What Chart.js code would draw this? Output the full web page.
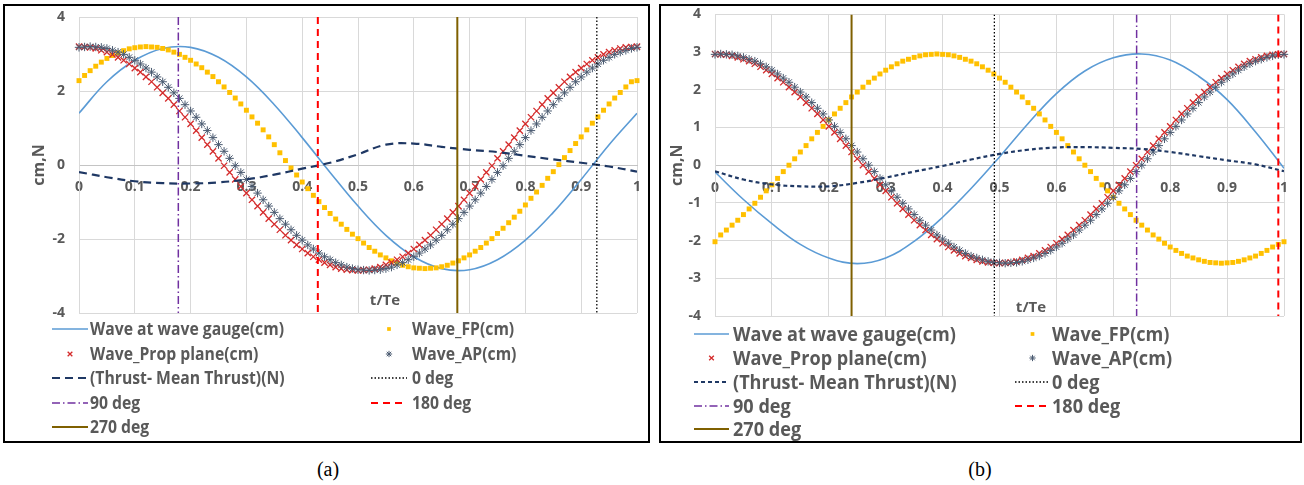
<!DOCTYPE html>
<html>
<head>
<meta charset="UTF-8">
<title>Wave / thrust phase (a) (b)</title>
<script src="https://cdn.jsdelivr.net/npm/chart.js@4.4.1/dist/chart.umd.min.js"></script>
<style>
  body { margin: 0; background: #fff; width: 1304px; height: 485px; position: relative; overflow: hidden; }
  .panel { position: absolute; top: 4px; height: 439px; border: 2px solid #000; box-sizing: border-box; }
  #boxA { left: 3px; width: 647px; }
  #boxB { left: 659px; width: 643px; }
  .inner { position: relative; width: 100%; height: 100%; }
  .cap { position: absolute; top: 456px; width: 60px; margin-left: -30px; text-align: center;
         font: 20px "Liberation Serif", "Times New Roman", serif; color: #000; line-height: 26px; }
</style>
</head>
<body>
<div class="panel" id="boxA"><div class="inner"><canvas id="chartA"></canvas></div></div>
<div class="panel" id="boxB"><div class="inner"><canvas id="chartB"></canvas></div></div>
<div class="cap" style="left:328px">(a)</div>
<div class="cap" style="left:980px">(b)</div>
<script>
// ---- data ----
// time samples t/Te
const tFine = [0,0.01,0.02,0.03,0.04,0.05,0.06,0.07,0.08,0.09,
  0.1,0.11,0.12,0.13,0.14,0.15,0.16,0.17,0.18,0.19,
  0.2,0.21,0.22,0.23,0.24,0.25,0.26,0.27,0.28,0.29,
  0.3,0.31,0.32,0.33,0.34,0.35,0.36,0.37,0.38,0.39,
  0.4,0.41,0.42,0.43,0.44,0.45,0.46,0.47,0.48,0.49,
  0.5,0.51,0.52,0.53,0.54,0.55,0.56,0.57,0.58,0.59,
  0.6,0.61,0.62,0.63,0.64,0.65,0.66,0.67,0.68,0.69,
  0.7,0.71,0.72,0.73,0.74,0.75,0.76,0.77,0.78,0.79,
  0.8,0.81,0.82,0.83,0.84,0.85,0.86,0.87,0.88,0.89,
  0.9,0.91,0.92,0.93,0.94,0.95,0.96,0.97,0.98,0.99,1];
const tCoarse = [0,0.05,0.1,0.15,0.2,0.25,0.3,0.35,0.4,0.45,0.5,0.55,0.6,0.65,0.7,0.75,0.8,0.85,0.9,0.95,1];

const seriesNames = ['Wave at wave gauge(cm)', 'Wave_FP(cm)', 'Wave_Prop plane(cm)', 'Wave_AP(cm)', '(Thrust- Mean Thrust)(N)'];
const phaseNames = ['0 deg', '90 deg', '180 deg', '270 deg'];
const xTicks = [0,0.1,0.2,0.3,0.4,0.5,0.6,0.7,0.8,0.9,1];
const yTicksA = [-4,-2,0,2,4];
const yTicksB = [-4,-3,-2,-1,0,1,2,3,4];

// panel (a)
const aGauge = [1.40,2.25,2.83,3.15,3.18,2.91,2.38,1.63,0.74,-0.20,-1.11,-1.90,-2.48,-2.80,-2.83,-2.56,-2.03,-1.28,-0.39,0.55,1.40];
const aFP = [2.28,2.42,2.55,2.67,2.78,2.88,2.96,3.03,3.09,3.14,
  3.17,3.19,3.20,3.19,3.18,3.15,3.11,3.05,2.99,2.91,
  2.83,2.73,2.63,2.51,2.39,2.25,2.11,1.96,1.81,1.65,
  1.48,1.30,1.13,0.95,0.76,0.55,0.33,0.12,-0.08,-0.27,
  -0.46,-0.64,-0.82,-0.99,-1.15,-1.31,-1.46,-1.60,-1.74,-1.87,
  -1.99,-2.11,-2.23,-2.33,-2.43,-2.51,-2.59,-2.65,-2.71,-2.75,
  -2.78,-2.79,-2.80,-2.79,-2.78,-2.75,-2.71,-2.65,-2.59,-2.51,
  -2.43,-2.33,-2.23,-2.11,-1.99,-1.85,-1.71,-1.56,-1.41,-1.25,
  -1.08,-0.90,-0.73,-0.55,-0.36,-0.18,0.01,0.20,0.39,0.58,
  0.76,0.95,1.13,1.30,1.48,1.65,1.81,1.96,2.11,2.25,
  2.28];
const aProp = [3.20,3.19,3.18,3.15,3.10,3.05,2.99,2.91,2.83,2.73,
  2.62,2.51,2.38,2.25,2.10,1.95,1.80,1.63,1.46,1.29,
  1.11,0.93,0.74,0.55,0.37,0.18,-0.02,-0.20,-0.39,-0.58,
  -0.76,-0.94,-1.11,-1.28,-1.45,-1.60,-1.75,-1.90,-2.03,-2.16,
  -2.27,-2.38,-2.48,-2.56,-2.64,-2.70,-2.76,-2.80,-2.83,-2.84,
  -2.85,-2.84,-2.83,-2.80,-2.76,-2.70,-2.64,-2.56,-2.48,-2.38,
  -2.27,-2.16,-2.03,-1.90,-1.75,-1.60,-1.45,-1.28,-1.11,-0.94,
  -0.76,-0.58,-0.39,-0.20,-0.02,0.18,0.37,0.55,0.74,0.93,
  1.11,1.29,1.46,1.63,1.80,1.95,2.10,2.25,2.38,2.51,
  2.62,2.73,2.83,2.91,2.99,3.05,3.10,3.15,3.18,3.19,
  3.20];
const aAP = [3.18,3.19,3.20,3.19,3.18,3.15,3.10,3.05,2.99,2.91,
  2.83,2.73,2.62,2.51,2.38,2.25,2.10,1.95,1.80,1.63,
  1.46,1.29,1.11,0.93,0.74,0.55,0.37,0.18,-0.02,-0.20,
  -0.39,-0.58,-0.76,-0.94,-1.11,-1.28,-1.45,-1.60,-1.75,-1.90,
  -2.03,-2.16,-2.27,-2.38,-2.48,-2.56,-2.64,-2.70,-2.76,-2.80,
  -2.83,-2.84,-2.85,-2.84,-2.83,-2.80,-2.76,-2.70,-2.64,-2.56,
  -2.48,-2.38,-2.27,-2.16,-2.03,-1.90,-1.75,-1.60,-1.45,-1.28,
  -1.11,-0.94,-0.76,-0.58,-0.39,-0.20,-0.02,0.18,0.37,0.55,
  0.74,0.93,1.11,1.29,1.46,1.63,1.80,1.95,2.10,2.25,
  2.38,2.51,2.62,2.73,2.83,2.91,2.99,3.05,3.10,3.15,
  3.18];
const aThrust = [-0.19,-0.33,-0.44,-0.49,-0.50,-0.47,-0.39,-0.26,-0.10,0.06,0.29,0.55,0.58,0.49,0.41,0.35,0.25,0.15,0.06,-0.04,-0.18];
const aPhase = [0.928, 0.178, 0.428, 0.678];   // 0, 90, 180, 270 deg

// panel (b)
const bGauge = [-0.18,-0.91,-1.55,-2.10,-2.46,-2.61,-2.46,-2.02,-1.38,-0.62,0.22,1.10,1.90,2.50,2.85,2.95,2.79,2.36,1.74,0.88,-0.08];
const bFP = [-2.03,-1.85,-1.72,-1.59,-1.46,-1.31,-1.16,-1.01,-0.85,-0.68,
  -0.52,-0.35,-0.17,0.00,0.17,0.35,0.52,0.70,0.87,1.03,
  1.20,1.36,1.51,1.66,1.81,1.94,2.07,2.20,2.31,2.42,
  2.52,2.61,2.69,2.76,2.81,2.86,2.90,2.93,2.94,2.95,
  2.94,2.93,2.90,2.86,2.81,2.76,2.69,2.61,2.52,2.42,
  2.31,2.20,2.07,1.94,1.81,1.66,1.51,1.36,1.20,1.03,
  0.87,0.70,0.52,0.35,0.17,0.00,-0.17,-0.35,-0.52,-0.68,
  -0.85,-1.01,-1.16,-1.31,-1.46,-1.59,-1.72,-1.85,-1.96,-2.07,
  -2.17,-2.26,-2.34,-2.41,-2.46,-2.51,-2.55,-2.58,-2.59,-2.60,
  -2.59,-2.58,-2.55,-2.51,-2.46,-2.41,-2.34,-2.26,-2.17,-2.10,
  -2.03];
const bProp = [2.95,2.94,2.93,2.90,2.86,2.81,2.76,2.69,2.61,2.52,
  2.42,2.31,2.20,2.07,1.94,1.81,1.66,1.51,1.36,1.20,
  1.03,0.87,0.70,0.52,0.35,0.17,0.00,-0.17,-0.35,-0.52,
  -0.68,-0.85,-1.01,-1.16,-1.31,-1.46,-1.59,-1.72,-1.85,-1.96,
  -2.07,-2.17,-2.26,-2.34,-2.41,-2.46,-2.51,-2.55,-2.58,-2.59,
  -2.60,-2.59,-2.58,-2.55,-2.51,-2.46,-2.41,-2.34,-2.26,-2.17,
  -2.07,-1.96,-1.85,-1.72,-1.59,-1.46,-1.31,-1.16,-1.01,-0.85,
  -0.68,-0.52,-0.35,-0.17,0.00,0.17,0.35,0.52,0.70,0.87,
  1.03,1.20,1.36,1.51,1.66,1.81,1.94,2.07,2.20,2.31,
  2.42,2.52,2.61,2.69,2.76,2.81,2.86,2.90,2.93,2.94,
  2.95];
const bAP = [2.94,2.95,2.94,2.93,2.90,2.86,2.81,2.76,2.69,2.61,
  2.52,2.42,2.31,2.20,2.07,1.94,1.81,1.66,1.51,1.36,
  1.20,1.03,0.87,0.70,0.52,0.35,0.17,0.00,-0.17,-0.35,
  -0.52,-0.68,-0.85,-1.01,-1.16,-1.31,-1.46,-1.59,-1.72,-1.85,
  -1.96,-2.07,-2.17,-2.26,-2.34,-2.41,-2.46,-2.51,-2.55,-2.58,
  -2.59,-2.60,-2.59,-2.58,-2.55,-2.51,-2.46,-2.41,-2.34,-2.26,
  -2.17,-2.07,-1.96,-1.85,-1.72,-1.59,-1.46,-1.31,-1.16,-1.01,
  -0.85,-0.68,-0.52,-0.35,-0.17,0.00,0.17,0.35,0.52,0.70,
  0.87,1.03,1.20,1.36,1.51,1.66,1.81,1.94,2.07,2.20,
  2.31,2.42,2.52,2.61,2.69,2.76,2.81,2.86,2.90,2.93,
  2.94];
const bThrust = [-0.16,-0.38,-0.51,-0.56,-0.56,-0.47,-0.33,-0.17,-0.02,0.15,0.30,0.41,0.47,0.48,0.46,0.43,0.35,0.24,0.13,0.02,-0.16];
const bPhase = [0.491, 0.741, 0.990, 0.240];   // 0, 90, 180, 270 deg

// ---- drawing ----
const gray = '#595959';
const FONT = '"Open Sans"';
const tickFont = { family: FONT, size: 14, weight: 'bold' };

function pts(xs, ys) {
  return xs.map((x, i) => ({ x: x, y: ys[i] }));
}

// legend in two columns + the t/Te caption, drawn on the canvas
const panelExtras = {
  id: 'panelExtras',
  afterDraw(chart, args, o) {
    const ctx = chart.ctx;
    ctx.save();
    ctx.fillStyle = gray;
    ctx.textBaseline = 'middle';
    ctx.textAlign = 'center';
    ctx.font = 'bold 15px ' + FONT;
    ctx.fillText('t/Te', o.xTitleAt[0], o.xTitleAt[1]);

    // legend text: narrowed a little so the width matches the original face
    ctx.font = 'bold ' + o.size + 'px ' + FONT;
    const sx = o.fitWidth / ctx.measureText(seriesNames[0]).width;
    ctx.textAlign = 'left';
    chart.data.datasets.forEach((ds, i) => {
      const col = i % 2, row = Math.floor(i / 2);
      const x0 = o.symX[col], x1 = x0 + o.symW, y = o.rowY[row];
      ctx.save();
      if (ds.showLine === false) {
        ctx.strokeStyle = ds.pointBorderColor;
        ctx.fillStyle = ds.pointBackgroundColor;
        ctx.lineWidth = ds.pointBorderWidth;
        Chart.helpers.drawPoint(ctx, { pointStyle: ds.pointStyle, radius: ds.pointRadius * 0.75,
          borderWidth: ds.pointBorderWidth, rotation: 0 }, (x0 + x1) / 2, y);
      } else {
        ctx.strokeStyle = ds.borderColor;
        ctx.lineWidth = ds.borderWidth;
        ctx.setLineDash(ds.borderDash || []);
        ctx.beginPath();
        ctx.moveTo(x0, y);
        ctx.lineTo(x1, y);
        ctx.stroke();
      }
      ctx.restore();
      ctx.save();
      ctx.translate(o.textX[col], y + 1);
      ctx.scale(sx, 1);
      ctx.fillText(ds.label, 0, 0);
      ctx.restore();
    });
    ctx.restore();
  }
};

function makePanel(id, d, lay) {
  const vline = (x) => [{ x: x, y: 4 }, { x: x, y: -4 }];
  const datasets = [
    { label: seriesNames[0], data: pts(tCoarse, d.gauge), borderColor: '#5B9BD5', borderWidth: 1.6,
      pointRadius: 0, tension: 0.4, order: 10 },
    { label: seriesNames[1], data: pts(tFine, d.fp), showLine: false, pointStyle: 'rect', pointRadius: 3.5,
      pointBackgroundColor: '#FFC000', pointBorderColor: '#FFC000', pointBorderWidth: 0, order: 9, clip: false },
    { label: seriesNames[2], data: pts(tFine, d.prop), showLine: false, pointStyle: 'crossRot', pointRadius: 4.4,
      pointBackgroundColor: '#D42A2A', pointBorderColor: '#D42A2A', pointBorderWidth: 1.3, order: 8, clip: false },
    { label: seriesNames[3], data: pts(tFine, d.ap), showLine: false, pointStyle: 'star', pointRadius: 4.2,
      pointBackgroundColor: '#4A5A70', pointBorderColor: '#4A5A70', pointBorderWidth: 1, order: 7, clip: false },
    { label: seriesNames[4], data: pts(tCoarse, d.thrust), borderColor: '#1F3864', borderWidth: 2.2,
      borderDash: lay.thrustDash, pointRadius: 0, tension: 0.4, order: 6 },
    { label: phaseNames[0], data: vline(d.phase[0]), borderColor: '#000000', borderWidth: 1.3,
      borderDash: [1.5, 2], pointRadius: 0, order: 5 },
    { label: phaseNames[1], data: vline(d.phase[1]), borderColor: '#7030A0', borderWidth: 1.5,
      borderDash: [8, 3, 1.5, 3], pointRadius: 0, order: 4 },
    { label: phaseNames[2], data: vline(d.phase[2]), borderColor: '#FF0000', borderWidth: 2,
      borderDash: [7, 5], pointRadius: 0, order: 3 },
    { label: phaseNames[3], data: vline(d.phase[3]), borderColor: '#7F6000', borderWidth: 2,
      pointRadius: 0, order: 2 }
  ];

  return new Chart(document.getElementById(id), {
    type: 'line',
    data: { datasets: datasets },
    plugins: [panelExtras],
    options: {
      responsive: true,
      maintainAspectRatio: false,
      animation: false,
      events: [],
      layout: { padding: lay.padding },
      plugins: {
        legend: { display: false },
        tooltip: { enabled: false },
        panelExtras: lay.legend
      },
      scales: {
        x: {
          type: 'linear', min: 0, max: 1,
          position: { y: 0 },
          afterFit: (s) => { s.height = 0; },
          afterBuildTicks: (s) => { s.ticks = xTicks.map(v => ({ value: v })); },
          // invisible tick marks just push the labels below the zero line
          grid: { color: '#D9D9D9', drawTicks: true, tickLength: 14, tickColor: 'rgba(0,0,0,0)' },
          border: { color: '#C4C4C4' },
          ticks: { padding: 0, color: gray, font: tickFont, maxRotation: 0, autoSkip: false,
                   callback: (v) => String(v) }
        },
        y: {
          min: -4, max: 4,
          afterFit: (s) => { s.width = lay.yWidth; },
          afterBuildTicks: (s) => { s.ticks = d.yTicks.map(v => ({ value: v })); },
          grid: { color: '#D9D9D9', drawTicks: true, tickLength: 14, tickColor: 'rgba(0,0,0,0)' },
          border: { color: '#D9D9D9' },
          ticks: { padding: 0, color: gray, font: tickFont, callback: (v) => String(v) },
          title: { display: true, text: 'cm,N', color: gray,
                   font: { family: FONT, size: 16, weight: 'bold' }, padding: { top: lay.titlePad, bottom: 0 } }
        }
      }
    }
  });
}

makePanel('chartA',
  { gauge: aGauge, fp: aFP, prop: aProp, ap: aAP, thrust: aThrust, phase: aPhase, yTicks: yTicksA },
  { padding: { left: 0, top: 11, right: 11, bottom: 128 }, yWidth: 74, titlePad: 25, thrustDash: [8, 5],
    legend: { symX: [47, 366], symW: 36, textX: [85, 407], rowY: [323, 348, 372, 397, 421],
              size: 17, fitWidth: 194, xTitleAt: [380, 295] } });

makePanel('chartB',
  { gauge: bGauge, fp: bFP, prop: bProp, ap: bAP, thrust: bThrust, phase: bPhase, yTicks: yTicksB },
  { padding: { left: 0, top: 8, right: 16, bottom: 125 }, yWidth: 54, titlePad: 7, thrustDash: [4, 3],
    legend: { symX: [33, 354], symW: 35, textX: [72, 391], rowY: [328, 352, 376, 400, 423],
              size: 19.5, fitWidth: 223, xTitleAt: [370, 302] } });
</script>
</body>
</html>
